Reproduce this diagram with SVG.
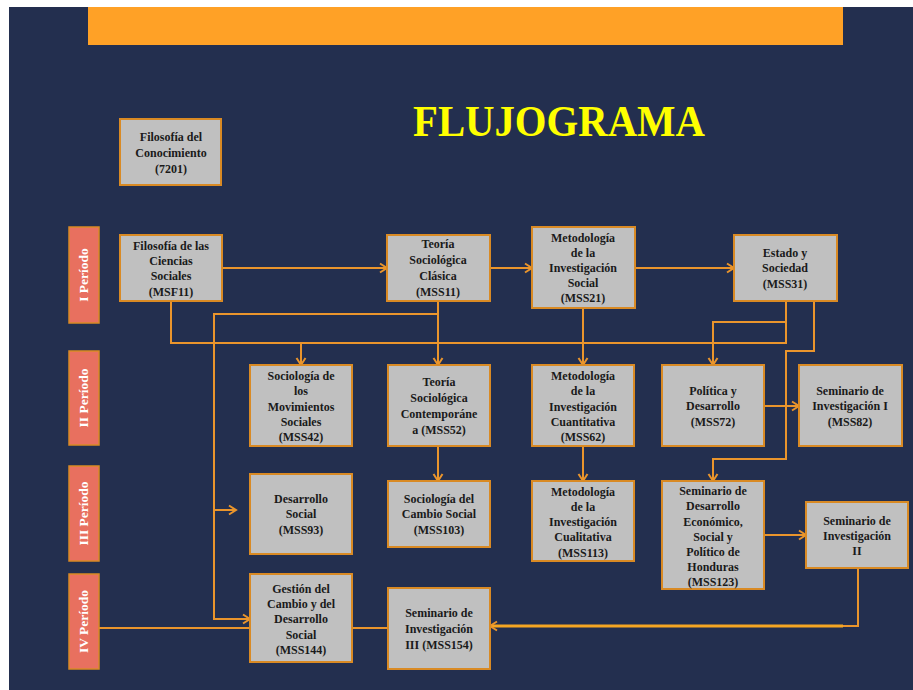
<svg xmlns="http://www.w3.org/2000/svg" width="913" height="690" viewBox="0 0 913 690">
<style>
.box{fill:#C0C0C0;stroke:#D98A24;stroke-width:2}
.per{fill:#E8705F;stroke:#D98A24;stroke-width:1.5}
.t{font-family:"Liberation Serif","Times New Roman",serif;font-weight:bold;font-size:12px;fill:#1a1a1a;text-anchor:middle}
.pt{font-family:"Liberation Serif","Times New Roman",serif;font-weight:bold;font-size:13.5px;fill:#FFFFFF;text-anchor:middle}
.c{fill:none;stroke:#EA952C;stroke-width:2}
.thick{stroke:#F5A623;stroke-width:3}
</style>
<defs>
<marker id="arr" markerUnits="userSpaceOnUse" markerWidth="12" markerHeight="12" refX="9" refY="6" orient="auto">
<path d="M2,1.5 L9,6 L2,10.5" fill="none" stroke="#EA952C" stroke-width="2"/>
</marker>
</defs>
<rect x="0" y="0" width="913" height="690" fill="#FFFFFF"/>
<rect x="9" y="7" width="904" height="683" fill="#232F4F"/>
<rect x="88" y="7" width="755" height="38" fill="#FFA126"/>
<text x="559" y="136" font-family="Liberation Serif,Times New Roman,serif" font-weight="bold" font-size="44" fill="#FFFF00" text-anchor="middle" textLength="292" lengthAdjust="spacingAndGlyphs">FLUJOGRAMA</text>

<g id="connectors">
<path class="c" d="M222,268 H387" marker-end="url(#arr)"/>
<path class="c" d="M490,268 H532" marker-end="url(#arr)"/>
<path class="c" d="M635,268 H734" marker-end="url(#arr)"/>
<path class="c" d="M171,301 V343 H786 V301"/>
<path class="c" d="M301,343 V365" marker-end="url(#arr)"/>
<path class="c" d="M438,301 V365" marker-end="url(#arr)"/>
<path class="c" d="M438,314 H214 V619 H250" marker-end="url(#arr)"/>
<path class="c" d="M214,510 H236" marker-end="url(#arr)"/>
<path class="c" d="M583,308 V365" marker-end="url(#arr)"/>
<path class="c" d="M786,322 H713 V365" marker-end="url(#arr)"/>
<path class="c" d="M814,301 V351 H786 V459 H713 V481" marker-end="url(#arr)"/>
<path class="c" d="M764,406 H799" marker-end="url(#arr)"/>
<path class="c" d="M438,446 V481" marker-end="url(#arr)"/>
<path class="c" d="M583,446 V481" marker-end="url(#arr)"/>
<path class="c" d="M764,535 H806" marker-end="url(#arr)"/>
<path class="c" d="M858,568 V626 H843"/>
<path class="c thick" d="M843,626 H490" marker-end="url(#arr)"/>
<path class="c" d="M99,628 H250"/>
<path class="c" d="M352,628 H388"/>
</g>

<g id="period1"><rect class="per" x="69" y="227" width="30" height="96"/><text class="pt" transform="translate(88,275) rotate(-90)">I Período</text></g>
<g id="period2"><rect class="per" x="69" y="351" width="30" height="94"/><text class="pt" transform="translate(88,398) rotate(-90)">II Período</text></g>
<g id="period3"><rect class="per" x="69" y="466" width="30" height="95"/><text class="pt" transform="translate(88,513.5) rotate(-90)">III Período</text></g>
<g id="period4"><rect class="per" x="69" y="574" width="30" height="95"/><text class="pt" transform="translate(88,621.5) rotate(-90)">IV Período</text></g>

<g id="n7201"><rect class="box" x="120" y="119" width="101" height="66"/>
<text class="t" x="171" y="141">Filosofía del</text><text class="t" x="171" y="157">Conocimiento</text><text class="t" x="171" y="173">(7201)</text></g>

<g id="msf11"><rect class="box" x="120" y="235" width="102" height="66"/>
<text class="t" x="171" y="250">Filosofía de las</text><text class="t" x="171" y="265">Ciencias</text><text class="t" x="171" y="280">Sociales</text><text class="t" x="171" y="296">(MSF11)</text></g>

<g id="mss11"><rect class="box" x="387" y="235" width="103" height="66"/>
<text class="t" x="438" y="248">Teoría</text><text class="t" x="438" y="264">Sociológica</text><text class="t" x="438" y="280">Clásica</text><text class="t" x="438" y="296">(MSS11)</text></g>

<g id="mss21"><rect class="box" x="532" y="227" width="103" height="81"/>
<text class="t" x="583" y="242">Metodología</text><text class="t" x="583" y="257">de la</text><text class="t" x="583" y="272">Investigación</text><text class="t" x="583" y="287">Social</text><text class="t" x="583" y="302">(MSS21)</text></g>

<g id="mss31"><rect class="box" x="734" y="235" width="103" height="66"/>
<text class="t" x="785" y="257">Estado  y</text><text class="t" x="785" y="272">Sociedad</text><text class="t" x="785" y="288">(MSS31)</text></g>

<g id="mss42"><rect class="box" x="250" y="365" width="102" height="81"/>
<text class="t" x="301" y="380">Sociología de</text><text class="t" x="301" y="395">los</text><text class="t" x="301" y="411">Movimientos</text><text class="t" x="301" y="426">Sociales</text><text class="t" x="301" y="441">(MSS42)</text></g>

<g id="mss52"><rect class="box" x="388" y="365" width="102" height="81"/>
<text class="t" x="439" y="386">Teoría</text><text class="t" x="439" y="402">Sociológica</text><text class="t" x="439" y="418">Contemporáne</text><text class="t" x="439" y="434">a (MSS52)</text></g>

<g id="mss62"><rect class="box" x="532" y="365" width="102" height="81"/>
<text class="t" x="583" y="380">Metodología</text><text class="t" x="583" y="395">de la</text><text class="t" x="583" y="411">Investigación</text><text class="t" x="583" y="426">Cuantitativa</text><text class="t" x="583" y="441">(MSS62)</text></g>

<g id="mss72"><rect class="box" x="662" y="365" width="102" height="81"/>
<text class="t" x="713" y="395">Política y</text><text class="t" x="713" y="410">Desarrollo</text><text class="t" x="713" y="426">(MSS72)</text></g>

<g id="mss82"><rect class="box" x="799" y="365" width="103" height="81"/>
<text class="t" x="850" y="395">Seminario de</text><text class="t" x="850" y="410">Investigación  I</text><text class="t" x="850" y="426">(MSS82)</text></g>

<g id="mss93"><rect class="box" x="250" y="474" width="102" height="80"/>
<text class="t" x="301" y="503">Desarrollo</text><text class="t" x="301" y="518">Social</text><text class="t" x="301" y="534">(MSS93)</text></g>

<g id="mss103"><rect class="box" x="388" y="481" width="102" height="66"/>
<text class="t" x="439" y="503">Sociología del</text><text class="t" x="439" y="518">Cambio  Social</text><text class="t" x="439" y="534">(MSS103)</text></g>

<g id="mss113"><rect class="box" x="532" y="481" width="102" height="80"/>
<text class="t" x="583" y="496">Metodología</text><text class="t" x="583" y="511">de la</text><text class="t" x="583" y="526">Investigación</text><text class="t" x="583" y="541">Cualitativa</text><text class="t" x="583" y="557">(MSS113)</text></g>

<g id="mss123"><rect class="box" x="662" y="481" width="102" height="108"/>
<text class="t" x="713" y="495">Seminario de</text><text class="t" x="713" y="510">Desarrollo</text><text class="t" x="713" y="526">Económico,</text><text class="t" x="713" y="541">Social y</text><text class="t" x="713" y="556">Político de</text><text class="t" x="713" y="571">Honduras</text><text class="t" x="713" y="586">(MSS123)</text></g>

<g id="sem2"><rect class="box" x="806" y="502" width="102" height="66"/>
<text class="t" x="857" y="525">Seminario de</text><text class="t" x="857" y="540">Investigación</text><text class="t" x="857" y="555">II</text></g>

<g id="mss144"><rect class="box" x="250" y="574" width="102" height="88"/>
<text class="t" x="301" y="593">Gestión del</text><text class="t" x="301" y="608">Cambio  y del</text><text class="t" x="301" y="623">Desarrollo</text><text class="t" x="301" y="639">Social</text><text class="t" x="301" y="654">(MSS144)</text></g>

<g id="mss154"><rect class="box" x="388" y="588" width="102" height="81"/>
<text class="t" x="439" y="617">Seminario de</text><text class="t" x="439" y="633">Investigación</text><text class="t" x="439" y="649">III  (MSS154)</text></g>
</svg>
